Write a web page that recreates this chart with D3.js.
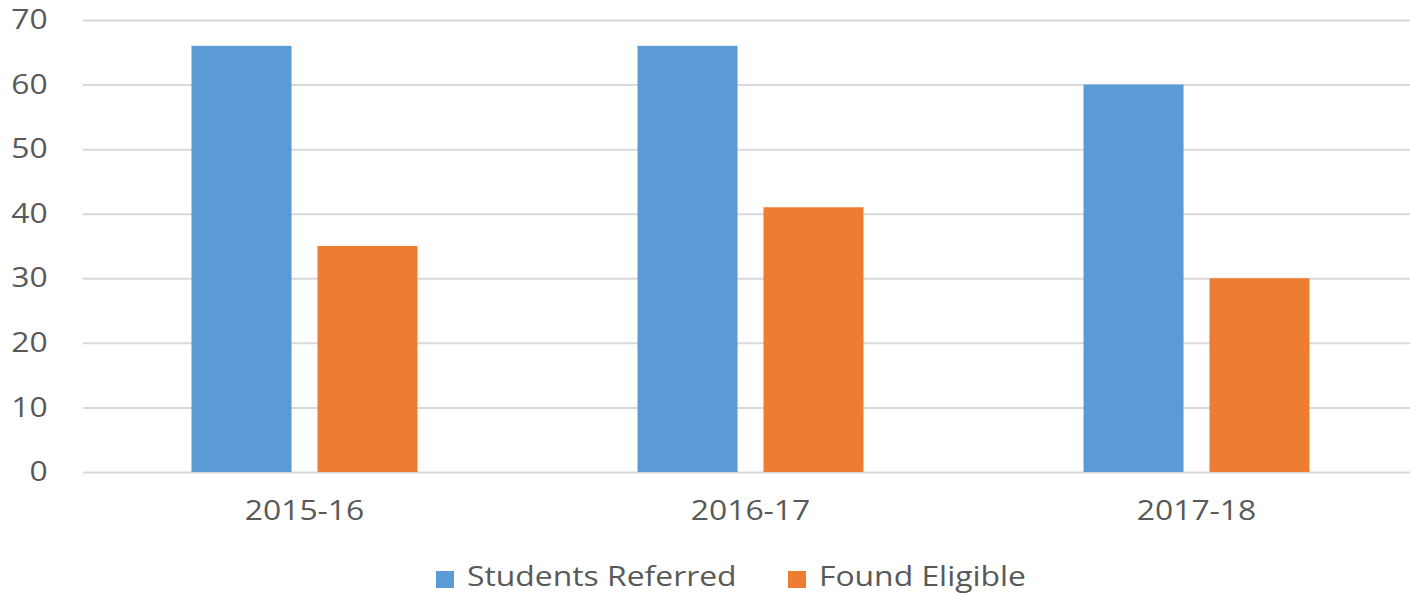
<!DOCTYPE html>
<html>
<head>
<meta charset="utf-8">
<script src="https://cdn.jsdelivr.net/npm/d3@7"></script>
<style>
  html, body { margin: 0; padding: 0; background: #fff; }
  svg { display: block; }
  text { font-family: "Open Sans", sans-serif; fill: #595959; }
</style>
</head>
<body>
<svg id="chart" width="1410" height="593"></svg>
<script>
// data
const categories = ["2015-16", "2016-17", "2017-18"]
const seriesNames = ["Students Referred", "Found Eligible"]
const studentsReferred = [66, 66, 60]
const foundEligible = [35, 41, 30]
const seriesColors = ["#5B9BD5", "#ED7D31"]
const yTicks = [0, 10, 20, 30, 40, 50, 60, 70]

const W = 1410, H = 593
const plotL = 83, plotR = 1421, plotT = 20, plotB = 472
const FONT = 27, SX = 1.18   // text is drawn a bit wide in the original

const svg = d3.select("#chart")

const x0 = d3.scaleBand().domain(categories).range([plotL - 1.5, plotR - 1.5])
const x1 = d3.scaleBand().domain(seriesNames)
    .range([110, 336]).paddingInner(0.206).paddingOuter(0)
const y = d3.scaleLinear().domain([0, 70]).range([plotB, plotT])

// 1. y axis + gridlines
const yAxis = svg.append("g")
    .attr("transform", `translate(${plotL},0)`)
    .call(d3.axisLeft(y).tickValues(yTicks).tickSize(-(W - plotL)).tickPadding(30))
yAxis.select(".domain").remove()
yAxis.selectAll(".tick line").attr("stroke", "#d9d9d9").attr("stroke-width", 2)
yAxis.selectAll(".tick text")
    .attr("font-size", FONT)
    .attr("fill", "#595959")
    .attr("font-family", "Open Sans, sans-serif")
    .attr("transform", `scale(${SX},1)`)

// 2. bars
const rows = categories.map((c, i) => ({ cat: c, vals: [studentsReferred[i], foundEligible[i]] }))
svg.append("g")
    .selectAll("g")
    .data(rows)
    .join("g")
    .attr("transform", d => `translate(${x0(d.cat)},0)`)
    .selectAll("rect")
    .data(d => d.vals.map((v, j) => ({ name: seriesNames[j], v, color: seriesColors[j] })))
    .join("rect")
    .attr("x", d => x1(d.name))
    .attr("width", x1.bandwidth())
    .attr("y", d => y(d.v))
    .attr("height", d => y(0) - y(d.v))
    .attr("fill", d => d.color)

// 3. category labels
const xAxis = svg.append("g")
    .attr("transform", `translate(0,${plotB})`)
    .call(d3.axisBottom(x0).tickSize(0).tickPadding(29))
xAxis.select(".domain").remove()
xAxis.selectAll(".tick text")
    .attr("font-size", FONT)
    .attr("fill", "#595959")
    .attr("font-family", "Open Sans, sans-serif")
    .attr("transform", `scale(${SX},1)`)

// 4. legend
const legendX = [436, 788]
const leg = svg.append("g")
    .selectAll("g")
    .data(seriesNames)
    .join("g")
    .attr("transform", (d, i) => `translate(${legendX[i]},586)`)
leg.append("rect")
    .attr("x", 0).attr("y", -15)
    .attr("width", 18).attr("height", 17)
    .attr("fill", (d, i) => seriesColors[i])
leg.append("text")
    .attr("transform", `translate(31,0) scale(${SX},1)`)
    .attr("font-size", FONT)
    .text(d => d)
</script>
</body>
</html>
